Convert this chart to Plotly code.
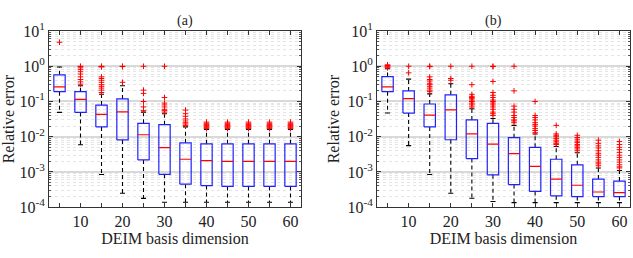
import plotly.graph_objects as go

dims = [5, 10, 15, 20, 25, 30, 35, 40, 45, 50, 55, 60]
xtick_vals = [5, 10, 15, 20, 25, 30, 35, 40, 45, 50, 55, 60]
xtick_text = ["", "10", "", "20", "", "30", "", "40", "", "50", "", "60"]
ytick_vals = [1e-4, 1e-3, 1e-2, 1e-1, 1e0, 1e1]
ytick_text = ["10<sup>-4</sup>", "10<sup>-3</sup>", "10<sup>-2</sup>", "10<sup>-1</sup>", "10<sup>0</sup>", "10<sup>1</sup>"]
ymin_minor = [k * 10.0 ** e for e in range(-4, 1) for k in range(2, 10)]

# Panel (a)
a_lo = [0.049, 0.0059, 0.00085, 0.00025, 0.000178, 0.000138, 0.000138, 0.000138, 0.000138, 0.000138, 0.000138, 0.000138]
a_q1 = [0.19, 0.049, 0.019, 0.0081, 0.0022, 0.00086, 0.00045, 0.00041, 0.00039, 0.00039, 0.00039, 0.00039]
a_med = [0.26, 0.115, 0.043, 0.051, 0.0114, 0.0049, 0.0023, 0.0021, 0.0020, 0.0020, 0.0020, 0.0020]
a_q3 = [0.57, 0.19, 0.079, 0.118, 0.024, 0.022, 0.0067, 0.0063, 0.0063, 0.0063, 0.0063, 0.0063]
a_hi = [0.95, 0.28, 0.16, 0.28, 0.05, 0.045, 0.019, 0.016, 0.016, 0.016, 0.016, 0.016]
a_out = [
    [4.8],
    [1.0, 0.97, 0.9, 0.8, 0.7, 0.6, 0.5, 0.42, 0.36, 0.31],
    [1.0, 0.98, 0.96, 0.5, 0.45, 0.4, 0.35, 0.3, 0.27, 0.24, 0.21, 0.18],
    [1.0, 0.98, 0.35],
    [1.0, 0.21, 0.17, 0.1, 0.07, 0.055],
    [1.0, 0.13, 0.09, 0.08, 0.07, 0.06, 0.055, 0.05],
    [0.057, 0.045, 0.038, 0.032, 0.028, 0.025, 0.023, 0.021],
    [0.026, 0.024, 0.022, 0.021, 0.02, 0.019, 0.018, 0.017],
    [0.026, 0.024, 0.022, 0.021, 0.02, 0.019, 0.018, 0.017],
    [0.026, 0.024, 0.022, 0.021, 0.02, 0.019, 0.018, 0.017],
    [0.026, 0.024, 0.022, 0.021, 0.02, 0.019, 0.018, 0.017],
    [0.026, 0.024, 0.022, 0.021, 0.02, 0.019, 0.018, 0.017],
]

# Panel (b)
b_lo = [0.047, 0.0056, 0.00085, 0.00025, 0.00018, 0.000145, 0.000135, 0.000135, 0.000135, 0.000135, 0.000135, 0.000135]
b_q1 = [0.19, 0.047, 0.019, 0.0082, 0.0024, 0.00083, 0.00044, 0.00028, 0.00021, 0.0002, 0.0002, 0.0002]
b_med = [0.26, 0.12, 0.041, 0.058, 0.012, 0.0062, 0.0033, 0.00145, 0.00063, 0.00042, 0.00027, 0.00026]
b_q3 = [0.51, 0.20, 0.085, 0.155, 0.030, 0.024, 0.0094, 0.0050, 0.0023, 0.0016, 0.00063, 0.00055]
b_hi = [0.85, 0.43, 0.165, 0.32, 0.062, 0.033, 0.021, 0.012, 0.0053, 0.0035, 0.0013, 0.0011]
b_out = [
    [1.1, 1.05, 1.0, 0.95, 0.9],
    [1.0, 0.65],
    [1.0, 0.98, 0.5, 0.42, 0.38, 0.33, 0.3, 0.27, 0.24, 0.21, 0.19],
    [1.0, 0.45, 0.4],
    [1.0, 0.3, 0.16, 0.14, 0.13, 0.12, 0.11, 0.1, 0.09, 0.08, 0.07],
    [1.0, 0.98, 0.37, 0.18, 0.15, 0.13, 0.11, 0.1, 0.09, 0.08, 0.07, 0.06, 0.05, 0.045, 0.04],
    [1.0, 0.2, 0.074, 0.06, 0.05, 0.04, 0.035, 0.03, 0.028, 0.025],
    [0.1, 0.04, 0.035, 0.03, 0.025, 0.022, 0.02, 0.017, 0.015, 0.013],
    [0.021, 0.012, 0.011, 0.01, 0.009, 0.008, 0.0072, 0.0065, 0.006],
    [0.011, 0.0095, 0.0085, 0.0075, 0.0068, 0.006, 0.0055, 0.005, 0.0045, 0.004],
    [0.008, 0.0065, 0.0055, 0.0048, 0.004, 0.0034, 0.003, 0.0026, 0.0022, 0.0019, 0.0017, 0.0015],
    [0.0073, 0.006, 0.005, 0.0043, 0.0036, 0.003, 0.0026, 0.0022, 0.0019, 0.0016, 0.0014, 0.0013],
]

HALF = 1.35  # half box width in x units
CAP = 0.6    # half cap width
FONT = "Liberation Serif"

fig = go.Figure()


def add_panel(lo, q1, med, q3, hi, outs, xa, ya):
    bx, by, mx, my, wx, wy, cx, cy, ox, oy = [], [], [], [], [], [], [], [], [], []
    for d, l, a, m, b, h, o in zip(dims, lo, q1, med, q3, hi, outs):
        bx += [d - HALF, d + HALF, d + HALF, d - HALF, d - HALF, None]
        by += [a, a, b, b, a, None]
        mx += [d - HALF, d + HALF, None]
        my += [m, m, None]
        wx += [d, d, None, d, d, None]
        wy += [b, h, None, a, l, None]
        cx += [d - CAP, d + CAP, None, d - CAP, d + CAP, None]
        cy += [h, h, None, l, l, None]
        ox += [d] * len(o)
        oy += o
    common = dict(xaxis=xa, yaxis=ya, showlegend=False, hoverinfo="skip")
    fig.add_trace(go.Scatter(x=wx, y=wy, mode="lines", line=dict(color="black", width=1.1, dash="4px,3px"), **common))
    fig.add_trace(go.Scatter(x=cx, y=cy, mode="lines", line=dict(color="black", width=1.1), **common))
    fig.add_trace(go.Scatter(x=bx, y=by, mode="lines", line=dict(color="#2020ff", width=1.2), **common))
    fig.add_trace(go.Scatter(x=mx, y=my, mode="lines", line=dict(color="red", width=1.2), **common))
    fig.add_trace(go.Scatter(x=ox, y=oy, mode="markers",
                             marker=dict(symbol="cross-thin", size=4, color="red", line=dict(color="red", width=1)), **common))


add_panel(a_lo, a_q1, a_med, a_q3, a_hi, a_out, "x", "y")
add_panel(b_lo, b_q1, b_med, b_q3, b_hi, b_out, "x2", "y2")

xdom = [[49 / 633, 301 / 633], [377 / 633, 630 / 633]]
ydom = [(258 - 212.7) / 258, (258 - 21.7) / 258]


def xaxis(dom, anchor):
    return dict(domain=dom, anchor=anchor, range=[2.5, 62.5], tickvals=xtick_vals, ticktext=xtick_text,
                ticks="inside", ticklen=4, tickcolor="#333", showgrid=False, zeroline=False,
                showline=True, linecolor="#333", linewidth=1, mirror="ticks",
                tickfont=dict(family=FONT, size=16, color="#222"),
                title=dict(text="DEIM basis dimension", font=dict(family=FONT, size=16, color="#222"), standoff=2))


def yaxis(anchor):
    return dict(domain=ydom, anchor=anchor, type="log", range=[-4, 1], tickvals=ytick_vals, ticktext=ytick_text,
                ticks="inside", ticklen=4, tickcolor="#333", showgrid=True, gridcolor="#d9d9d9", gridwidth=1.5,
                zeroline=False, showline=True, linecolor="#333", linewidth=1, mirror="ticks",
                minor=dict(tickvals=ymin_minor, showgrid=True, gridcolor="#e4e4e4", griddash="dot", gridwidth=1,
                           ticks="inside", ticklen=2, tickcolor="#555"),
                tickfont=dict(family=FONT, size=16, color="#222"),
                title=dict(text="Relative error", font=dict(family=FONT, size=16, color="#222"), standoff=3))


fig.update_layout(
    width=633, height=258, margin=dict(l=0, r=0, t=0, b=0),
    paper_bgcolor="white", plot_bgcolor="white",
    xaxis=xaxis(xdom[0], "y"), yaxis=yaxis("x"),
    xaxis2=xaxis(xdom[1], "y2"), yaxis2=yaxis("x2"),
    annotations=[
        dict(text="(a)", x=(xdom[0][0] + xdom[0][1]) / 2, y=1.0, xref="paper", yref="paper", yanchor="top",
             showarrow=False, font=dict(family=FONT, size=14, color="#222")),
        dict(text="(b)", x=(xdom[1][0] + xdom[1][1]) / 2, y=1.0, xref="paper", yref="paper", yanchor="top",
             showarrow=False, font=dict(family=FONT, size=14, color="#222")),
    ],
)

fig.write_html("out.html")
